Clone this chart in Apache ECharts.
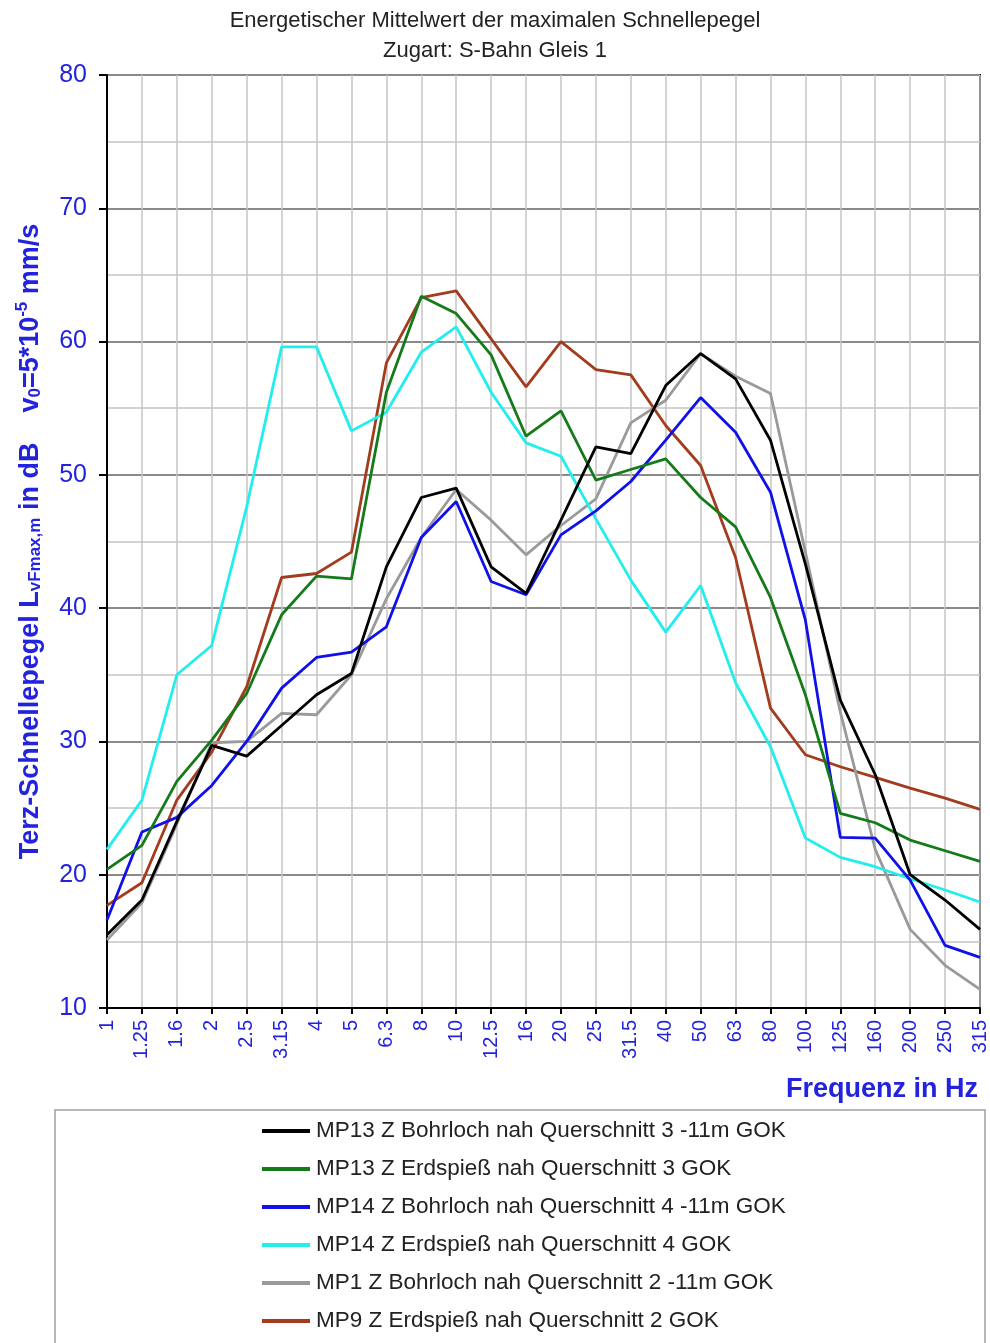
<!DOCTYPE html>
<html>
<head>
<meta charset="utf-8">
<script src="https://cdn.jsdelivr.net/npm/echarts@6/dist/echarts.min.js"></script>
<style>
html,body{margin:0;padding:0;background:#fff;}
#chart{width:990px;height:1343px;}
</style>
</head>
<body>
<div id="chart"></div>
<script>
const frequencies = ['1','1.25','1.6','2','2.5','3.15','4','5','6.3','8','10','12.5','16','20','25','31.5','40','50','63','80','100','125','160','200','250','315'];
const yTicks = [10, 20, 30, 40, 50, 60, 70, 80];

const seriesNames = [
  'MP13 Z Bohrloch nah Querschnitt 3 -11m GOK',
  'MP13 Z Erdspieß nah Querschnitt 3 GOK',
  'MP14 Z Bohrloch nah Querschnitt 4 -11m GOK',
  'MP14 Z Erdspieß nah Querschnitt 4 GOK',
  'MP1 Z Bohrloch nah Querschnitt 2 -11m GOK',
  'MP9 Z Erdspieß nah Querschnitt 2 GOK'
];

const mp13Bohrloch = [15.5, 18.1, 24.0, 29.7, 28.9, 31.2, 33.5, 35.1, 43.1, 48.3, 49.0, 43.1, 41.1, 46.6, 52.1, 51.6, 56.7, 59.1, 57.2, 52.6, 43.3, 33.1, 27.5, 20.0, 18.1, 15.9];
const mp13Erdspiess = [20.4, 22.2, 27.0, 30.1, 33.6, 39.5, 42.4, 42.2, 56.2, 63.4, 62.1, 59.0, 52.9, 54.8, 49.6, 50.4, 51.2, 48.3, 46.1, 40.8, 33.5, 24.6, 23.9, 22.6, 21.8, 21.0];
const mp14Bohrloch = [16.6, 23.2, 24.3, 26.7, 30.0, 34.0, 36.3, 36.7, 38.6, 45.3, 48.0, 42.0, 41.0, 45.5, 47.3, 49.5, 52.6, 55.8, 53.2, 48.7, 39.1, 22.8, 22.75, 19.6, 14.7, 13.8];
const mp14Erdspiess = [21.9, 25.6, 35.0, 37.2, 47.6, 59.6, 59.6, 53.3, 54.7, 59.2, 61.1, 56.2, 52.4, 51.4, 46.7, 42.1, 38.2, 41.7, 34.4, 29.6, 22.75, 21.3, 20.6, 19.7, 18.85, 17.95];
const mp1Bohrloch = [15.1, 17.9, 23.8, 29.9, 30.0, 32.1, 32.0, 35.0, 40.7, 45.3, 48.9, 46.6, 44.0, 46.2, 48.2, 53.9, 55.6, 59.1, 57.4, 56.1, 44.2, 32.2, 21.9, 15.9, 13.2, 11.4];
const mp9Erdspiess = [17.7, 19.4, 25.6, 29.2, 34.1, 42.3, 42.6, 44.2, 58.4, 63.3, 63.8, 60.2, 56.6, 60.0, 57.9, 57.5, 53.7, 50.7, 43.8, 32.5, 29.0, 28.1, 27.3, 26.5, 25.75, 24.9];

const seriesData = [mp13Bohrloch, mp13Erdspiess, mp14Bohrloch, mp14Erdspiess, mp1Bohrloch, mp9Erdspiess];
const seriesColors = ['#000000', '#157a1a', '#1010e8', '#22eeee', '#9a9a9a', '#a33c1e'];

const FONT = '"Liberation Sans", Arial, sans-serif';
const BLUE = '#2323dd';

const chart = echarts.init(document.getElementById('chart'), null, {renderer: 'canvas'});

const option = {
  backgroundColor: '#ffffff',
  animation: false,
  title: {
    text: 'Energetischer Mittelwert der maximalen Schnellepegel\nZugart: S-Bahn Gleis 1',
    left: 'center',
    top: 6,
    padding: 0,
    textStyle: {fontFamily: FONT, fontSize: 22, fontWeight: 'normal', color: '#222', lineHeight: 30}
  },
  grid: {
    left: 107, right: 10, top: 75, bottom: 335,
    outerBoundsMode: 'none',
    containLabel: false,
    show: true, borderColor: '#000', borderWidth: 2, backgroundColor: 'transparent'
  },
  legend: {
    orient: 'vertical',
    left: 262,
    top: 1119,
    padding: 0,
    icon: 'rect',
    itemWidth: 48,
    itemHeight: 4,
    itemGap: 14,
    textStyle: {fontFamily: FONT, fontSize: 22.5, color: '#222', lineHeight: 24, padding: [0, 0, 0, 1]},
    data: seriesNames
  },
  xAxis: {
    type: 'category',
    data: frequencies,
    boundaryGap: false,
    axisLine: {show: true, lineStyle: {color: '#000', width: 2}},
    axisTick: {show: true, inside: false, length: 6, interval: 0, lineStyle: {color: '#000', width: 2}},
    axisLabel: {interval: 0, rotate: 90, margin: 12, color: BLUE, fontFamily: FONT, fontSize: 20},
    splitLine: {show: true, interval: 0, lineStyle: {color: '#c4c4c4', width: 1.5}}
  },
  yAxis: {
    type: 'value',
    min: 10, max: 80, interval: 10,
    axisLine: {show: true, lineStyle: {color: '#000', width: 2}},
    axisTick: {show: true, length: 8, lineStyle: {color: '#000', width: 2}},
    axisLabel: {color: BLUE, fontFamily: FONT, fontSize: 25, margin: 20,
      formatter: function (v) { return yTicks.indexOf(v) >= 0 ? String(v) : ''; }},
    splitLine: {show: true, lineStyle: {color: '#8a8a8a', width: 2}},
    minorTick: {show: false, splitNumber: 2},
    minorSplitLine: {show: true, lineStyle: {color: '#c4c4c4', width: 1.5}},
    name: '{a|Terz-Schnellepegel L}{sub|vFmax,m}{a| in dB    v}{sub|0}{a|=5*10}{sup|-5}{a| mm/s}',
    nameLocation: 'middle',
    nameGap: 58,
    nameRotate: 90,
    nameTextStyle: {
      color: BLUE,
      rich: {
        a: {fontFamily: FONT, fontSize: 27, fontWeight: 'bold', color: BLUE, lineHeight: 36},
        sub: {fontFamily: FONT, fontSize: 17, fontWeight: 'bold', color: BLUE, lineHeight: 17, verticalAlign: 'bottom', padding: [0, 0, 4, 0]},
        sup: {fontFamily: FONT, fontSize: 17, fontWeight: 'bold', color: BLUE, lineHeight: 17, verticalAlign: 'top', padding: [2, 0, 0, 0]}
      }
    }
  },
  graphic: [
    {
      type: 'text',
      right: 12,
      top: 1076,
      style: {text: 'Frequenz in Hz', fill: BLUE, font: 'bold 27px ' + FONT}
    },
    {
      type: 'rect',
      shape: {x: 55, y: 1110, width: 930, height: 250},
      style: {fill: 'none', stroke: '#a0a0a0', lineWidth: 1.5},
      z: -1
    }
  ],
  series: seriesNames.map(function (name, i) {
    return {
      name: name,
      type: 'line',
      data: seriesData[i],
      symbol: 'none',
      color: seriesColors[i],
      lineStyle: {color: seriesColors[i], width: 2.8},
      z: 3 + (5 - i)
    };
  })
};

chart.setOption(option);
</script>
</body>
</html>
